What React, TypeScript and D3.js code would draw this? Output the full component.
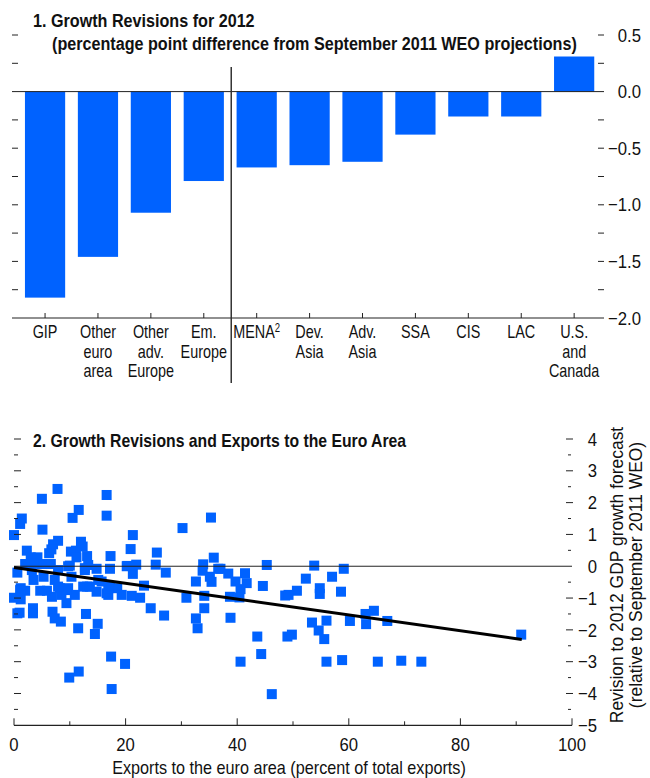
import * as d3 from "d3";

// Panel 1: growth revisions for 2012
const categories = ["GIP", "Other euro area", "Other adv. Europe", "Em. Europe", "MENA", "Dev. Asia", "Adv. Asia", "SSA", "CIS", "LAC", "U.S. and Canada"];
const categoryLines = [["GIP"], ["Other", "euro", "area"], ["Other", "adv.", "Europe"], ["Em.", "Europe"], ["MENA"], ["Dev.", "Asia"], ["Adv.", "Asia"], ["SSA"], ["CIS"], ["LAC"], ["U.S.", "and", "Canada"]];
const revisions = [-1.82, -1.46, -1.07, -0.79, -0.67, -0.65, -0.62, -0.38, -0.22, -0.22, 0.31];
const barTicks = [0.5, 0, -0.5, -1, -1.5, -2];

// Panel 2: revisions vs exports to the euro area
const exportsShare = [
  7.8, 5.0, 11.6, 10.5, 1.4, 1.1, 5.1, 0.0, 16.6, 16.6, 7.9, 7.0, 12.0, 12.3, 2.3, 6.7, 11.1, 6.3, 21.3, 20.9,
  17.3, 25.6, 30.2, 35.3, 10.2, 3.0, 4.2, 11.2, 13.1, 35.8, 2.0, 5.0, 6.6, 10.0, 13.3, 21.9, 25.4, 33.9, 20.2, 17.2,
  12.7, 14.8, 36.6, 0.6, 3.2, 7.9, 21.3, 27.2, 33.8, 35.1, 3.5, 5.3, 7.3, 10.3, 15.1, 32.6, 35.4, 23.3, 1.2, 2.0,
  4.7, 5.9, 8.2, 9.7, 12.4, 13.1, 17.2, 18.5, 14.8, 0.0, 1.2, 6.8, 8.5, 10.9, 16.9, 19.3, 21.1, 22.6, 9.4, 30.9,
  34.1, 34.1, 3.4, 24.5, 0.6, 1.0, 3.4, 6.9, 7.3, 8.4, 12.9, 26.9, 32.6, 32.9, 11.5, 15.0, 14.5, 17.4, 19.9, 11.6,
  9.9, 17.5, 45.3, 53.8, 59.1, 37.0, 38.4, 39.7, 41.4, 41.7, 40.6, 44.6, 52.3, 57.0, 50.7, 54.8, 54.8, 58.6, 48.6, 49.2,
  38.7, 40.4, 38.8, 53.4, 56.0, 54.6, 55.6, 60.2, 63.1, 63.0, 64.5, 66.9, 43.6, 44.3, 49.0, 49.8, 40.6, 56.0, 58.8, 65.2,
  69.4, 73.0, 46.2, 90.9, 3.5, 9.4, 1.1, 7.9, 13.6, 16.6, 12.7, 9.7, 20.3, 15.7, 16.9,
];
const gdpRevision = [
  2.43, 2.12, 1.77, 1.52, 1.5, 1.33, 1.15, 0.98, 2.24, 1.59, 0.8, 0.69, 0.77, 0.62, 0.49, 0.53, 0.49, 0.41, 0.98, 0.54,
  0.32, 0.43, 1.2, 1.53, 0.46, 0.28, 0.28, 0.28, 0.32, 0.27, 0.07, 0.07, 0.07, 0.02, 0.04, 0.05, 0.05, 0.06, 0.0, -0.08,
  -0.06, -0.08, -0.08, -0.2, -0.12, -0.12, -0.24, -0.2, -0.14, -0.33, -0.43, -0.33, -0.43, -0.33, -0.43, -0.48, -0.49, -0.61, -0.69, -0.77,
  -0.77, -0.77, -0.69, -0.69, -0.64, -0.64, -0.64, -0.69, -0.8, -0.99, -1.04, -0.96, -0.9, -0.9, -0.9, -0.9, -0.93, -0.99, -1.16, -0.99,
  -0.93, -1.32, -1.32, -1.32, -1.48, -1.46, -1.48, -1.43, -1.64, -1.74, -1.5, -1.55, -1.64, -1.95, -1.95, -1.81, -2.13, -2.84, -3.07, -3.31,
  -3.5, -3.86, 0.04, 0.02, -0.08, -0.08, -0.23, -0.48, -0.22, -0.53, -0.72, -0.62, -0.39, -0.33, -0.77, -0.69, -0.87, -0.8, -0.92, -0.9,
  -0.96, -0.98, -1.62, -1.77, -1.71, -2.02, -2.29, -1.72, -1.82, -1.5, -1.4, -1.72, -2.21, -2.76, -2.21, -2.15, -3.0, -3.0, -2.95, -3.0,
  -2.97, -3.0, -4.02, -2.15, 0.09, -0.75, -0.75, -0.64, -0.64, -0.85, -0.12, 0.0, 0.01, -0.48, -0.69,
];
const trendX = [0, 91];
const trendY = [-0.04, -2.3];
const scatterYTicks = [4, 3, 2, 1, 0, -1, -2, -3, -4, -5];
const scatterXTicks = [0, 20, 40, 60, 80, 100];

const BLUE = "#0062ff";
const FONT = "'Liberation Sans', Arial, sans-serif";
const fmt = (v: number, digits: number) => (v < 0 ? "\u2212" : "") + Math.abs(v).toFixed(digits);

// text squeezed horizontally to mimic the condensed face of the original
function Txt({ x, y, children, anchor = "start", size = 18, bold = false, sx = 0.8, rotate = 0, dy }: any) {
  return (
    <text
      transform={`translate(${x},${y}) rotate(${rotate}) scale(${sx},1)`}
      textAnchor={anchor}
      fontSize={size}
      fontWeight={bold ? "bold" : "normal"}
      dy={dy}
    >
      {children}
    </text>
  );
}

function BarPanel() {
  const x = d3.scaleBand<string>().domain(categories).range([18.6, 600.6]).paddingInner(0.24).paddingOuter(0.12);
  const y = d3.scaleLinear().domain([-2, 0.5]).range([318, 35]);
  const minor = d3.range(-7, 3).map((k) => k * 0.25).filter((v) => v !== 0);
  const sepX = ((x(categories[3]) ?? 0) + x.bandwidth() + (x(categories[4]) ?? 0)) / 2 + 1;

  return (
    <g>
      <Txt x={33} y={27} bold size={19} sx={0.85}>1. Growth Revisions for 2012</Txt>
      <Txt x={52} y={50} bold size={19} sx={0.85}>(percentage point difference from September 2011 WEO projections)</Txt>
      {revisions.map((v, i) => (
        <rect
          key={categories[i]}
          x={x(categories[i])}
          width={x.bandwidth()}
          y={y(Math.max(0, v))}
          height={Math.abs(y(v) - y(0))}
          fill={BLUE}
        />
      ))}
      <line x1={12} x2={604} y1={y(0)} y2={y(0)} stroke="#222" strokeWidth={1} />
      <line x1={12} x2={604} y1={y(-2)} y2={y(-2)} stroke="#222" strokeWidth={1.2} />
      {categories.map((c) => {
        const cx = (x(c) ?? 0) + x.bandwidth() / 2;
        return <line key={c} x1={cx} x2={cx} y1={y(-2)} y2={y(-2) - 5} stroke="#222" />;
      })}
      {minor.map((v) => (
        <g key={v}>
          <line x1={12} x2={18} y1={y(v)} y2={y(v)} stroke="#222" />
          <line x1={598} x2={604} y1={y(v)} y2={y(v)} stroke="#222" />
        </g>
      ))}
      {barTicks.map((v) => (
        <Txt key={v} x={641} y={y(v)} dy="0.35em" anchor="end" size={19} sx={0.88}>{fmt(v, 1)}</Txt>
      ))}
      <line x1={sepX} x2={sepX} y1={67} y2={383} stroke="#333" strokeWidth={1.5} />
      {categoryLines.map((lines, i) => {
        const cx = (x(categories[i]) ?? 0) + x.bandwidth() / 2;
        return (
          <g key={categories[i]}>
            {lines.map((l, j) => (
              <Txt key={j} x={cx} y={338 + j * 19.5} anchor="middle">
                {l}
                {l === "MENA" ? <tspan dy={-6} fontSize={12}>2</tspan> : null}
              </Txt>
            ))}
          </g>
        );
      })}
    </g>
  );
}

function ScatterPanel() {
  const x = d3.scaleLinear().domain([0, 100]).range([14, 572]);
  const y = d3.scaleLinear().domain([-5, 4]).range([725.3, 439]);
  const halfTicks = d3.range(-9, 9).map((k) => k * 0.5).filter((v) => v !== 0);
  const xMinor = d3.range(0, 101, 10);
  const line = d3.line<number>().x((d) => x(d)).y((_, i) => y(trendY[i]));
  const S = 10;

  return (
    <g>
      <Txt x={33} y={447} bold size={19} sx={0.83}>2. Growth Revisions and Exports to the Euro Area</Txt>
      {exportsShare.map((v, i) => (
        <rect key={i} x={x(v) - S / 2} y={y(gdpRevision[i]) - S / 2} width={S} height={S} fill={BLUE} />
      ))}
      <line x1={x(0)} x2={x(100)} y1={y(0)} y2={y(0)} stroke="#222" strokeWidth={1} />
      <path d={line(trendX) ?? ""} fill="none" stroke="#000" strokeWidth={3} />
      {halfTicks.map((v) => {
        const major = Number.isInteger(v);
        return (
          <g key={v}>
            <line x1={x(0)} x2={x(0) + (major ? 7 : 4)} y1={y(v)} y2={y(v)} stroke="#222" />
            <line x1={major ? 566 : 568} x2={major ? 573 : 571} y1={y(v)} y2={y(v)} stroke="#222" />
          </g>
        );
      })}
      <line x1={x(0)} x2={x(100)} y1={y(-5)} y2={y(-5)} stroke="#222" strokeWidth={1.2} />
      {xMinor.map((v) => (
        <line key={v} x1={x(v)} x2={x(v)} y1={y(-5)} y2={y(-5) - (v % 20 === 0 ? 7 : 4)} stroke="#222" />
      ))}
      {scatterXTicks.map((v) => (
        <Txt key={v} x={x(v)} y={751} anchor="middle" size={19} sx={0.88}>{v}</Txt>
      ))}
      {scatterYTicks.map((v) => (
        <Txt key={v} x={597} y={y(v)} dy="0.35em" anchor="end" size={19} sx={0.88}>{fmt(v, 0)}</Txt>
      ))}
      <Txt x={289} y={774} anchor="middle" sx={0.9}>Exports to the euro area (percent of total exports)</Txt>
      <Txt x={623} y={575} anchor="middle" rotate={-90} sx={0.97}>Revision to 2012 GDP growth forecast</Txt>
      <Txt x={642} y={575} anchor="middle" rotate={-90} sx={0.97}>(relative to September 2011 WEO)</Txt>
    </g>
  );
}

export default function App() {
  return (
    <div style={{ position: "absolute", left: 0, top: 0 }}>
      <svg width={650} height={778} fontFamily={FONT} fill="#111" style={{ display: "block" }}>
        <rect width={650} height={778} fill="#fff" />
        <BarPanel />
        <ScatterPanel />
      </svg>
    </div>
  );
}
